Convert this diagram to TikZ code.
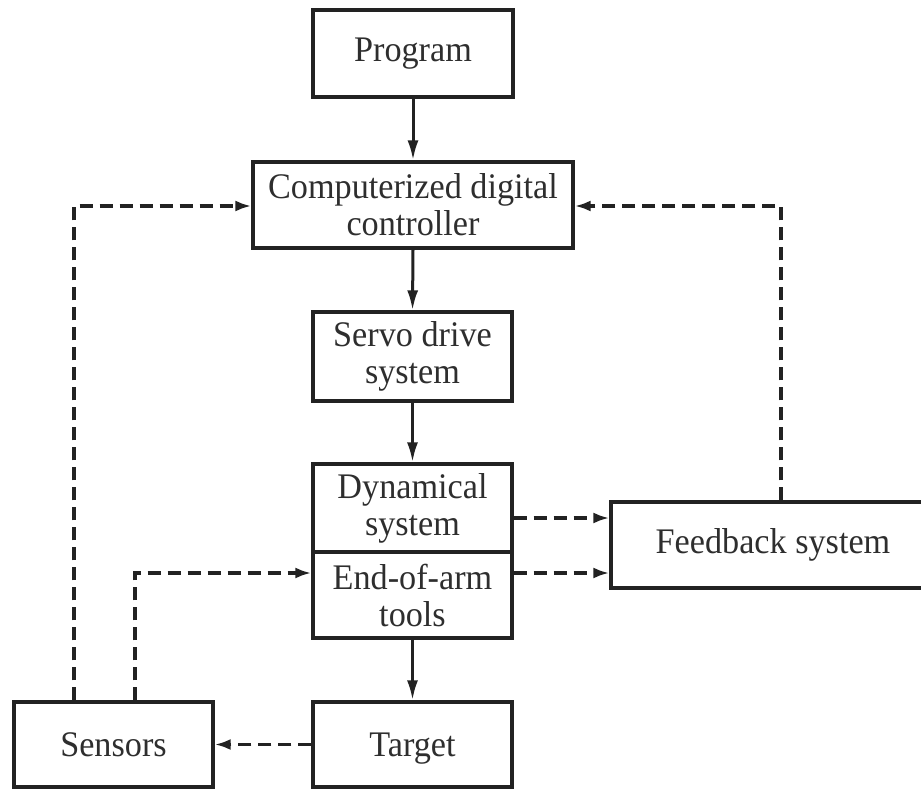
\documentclass[tikz,border=0pt]{standalone}
\usepackage{fontspec}
\setmainfont[FakeStretch=0.95]{Liberation Serif}
\usetikzlibrary{arrows.meta}
\definecolor{ink}{HTML}{222222}
\definecolor{txt}{HTML}{2E2E2E}
\tikzset{
  blk/.style={draw=ink, line width=3.3pt, rectangle, inner sep=0pt, align=center,
    text=txt, font=\fontsize{36}{37}\selectfont},
  solidarrow/.style={draw=ink, line width=3pt, -{Latex[length=20pt,width=11pt]}},
  dasharrow/.style={draw=ink, line width=3.2pt, dash pattern=on 13pt off 7pt, -{Latex[length=16pt,width=11pt]}},
}
\begin{document}
\begin{tikzpicture}[x=1pt,y=-1pt]
\useasboundingbox (0,0) rectangle (921,789);
\node[blk, minimum width=200pt, minimum height=87pt] (prog) at (413,53.5) {Program};
\node[blk, minimum width=320pt, minimum height=86pt] (ctrl) at (413,205) {Computerized digital\\controller};
\node[blk, minimum width=199pt, minimum height=89pt] (servo) at (412.5,356.5) {Servo drive\\system};
\node[blk, minimum width=199pt, minimum height=88pt] (dyn) at (412.5,508) {Dynamical\\system};
\node[blk, minimum width=199pt, minimum height=86pt] (eoa) at (412.5,595) {End-of-arm\\tools};
\node[blk, minimum width=199pt, minimum height=85pt, text depth=0pt] (target) at (412.5,744.5) {Target};
\node[blk, minimum width=199pt, minimum height=85pt] (sensors) at (113.5,744.5) {Sensors};
\node[blk, minimum width=324pt, minimum height=86pt] (fb) at (773,545) {Feedback system};

\draw[solidarrow] (prog.south) -- (ctrl.north);
\draw[solidarrow] (ctrl.south) -- (servo.north);
\draw[solidarrow] (servo.south) -- (dyn.north);
\draw[solidarrow] (eoa.south) -- (target.north);

\draw[dasharrow] (target.west) -- (sensors.east);
\draw[dasharrow] ([xshift=-39.5pt]sensors.north) |- ([yshift=-1pt]ctrl.west);
\draw[dasharrow] ([xshift=21.5pt]sensors.north) |- ([yshift=22pt]eoa.west);
\draw[dasharrow] ([yshift=-10pt]dyn.east) -- ([yshift=-10pt]dyn.east -| fb.west);
\draw[dasharrow] ([yshift=22pt]eoa.east) -- ([yshift=22pt]eoa.east -| fb.west);
\draw[dasharrow] ([xshift=8pt]fb.north) |- ([yshift=-1pt]ctrl.east);
\end{tikzpicture}
\end{document}
